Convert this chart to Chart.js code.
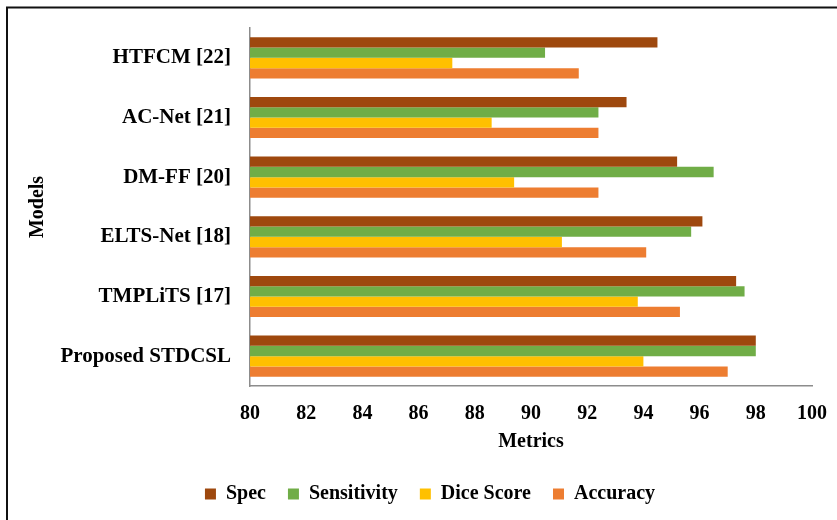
<!DOCTYPE html>
<html>
<head>
<meta charset="utf-8">
<script src="https://cdn.jsdelivr.net/npm/chart.js@4.4.0/dist/chart.umd.min.js"></script>
<style>
html,body{margin:0;padding:0;background:#fff;}
#wrap{position:relative;width:837px;height:520px;}
</style>
</head>
<body>
<div id="wrap"><canvas id="c" width="837" height="520"></canvas></div>
<script>
const categories = ["HTFCM [22]", "AC-Net [21]", "DM-FF [20]", "ELTS-Net [18]", "TMPLiTS [17]", "Proposed STDCSL"];
const seriesNames = ["Spec", "Sensitivity", "Dice Score", "Accuracy"];
const spec        = [94.5, 93.4, 95.2, 96.1, 97.3, 98.0];
const sensitivity = [90.5, 92.4, 96.5, 95.7, 97.6, 98.0];
const diceScore   = [87.2, 88.6, 89.4, 91.1, 93.8, 94.0];
const accuracy    = [91.7, 92.4, 92.4, 94.1, 95.3, 97.0];
const xTicks = [80, 82, 84, 86, 88, 90, 92, 94, 96, 98, 100];
const colors = ["#9E480E", "#70AD47", "#FFC000", "#ED7D31"];

const values = [spec, sensitivity, diceScore, accuracy];
const font = "'Liberation Serif', 'Times New Roman', serif";

const framePlugin = {
  id: 'frame',
  beforeDraw(chart) {
    const ctx = chart.ctx;
    ctx.save();
    ctx.fillStyle = '#fff';
    ctx.fillRect(0, 0, chart.width, chart.height);
    ctx.strokeStyle = '#111';
    ctx.lineWidth = 2;
    ctx.beginPath();
    ctx.moveTo(7, chart.height + 5);
    ctx.lineTo(7, 7.5);
    ctx.lineTo(chart.width + 5, 7.5);
    ctx.stroke();
    ctx.restore();
  }
};

new Chart(document.getElementById('c'), {
  type: 'bar',
  data: {
    labels: categories,
    datasets: seriesNames.map((n, i) => ({
      label: n,
      data: values[i],
      backgroundColor: colors[i],
      borderWidth: 0,
      categoryPercentage: 0.69,
      barPercentage: 1.0
    }))
  },
  options: {
    indexAxis: 'y',
    responsive: false,
    animation: false,
    devicePixelRatio: 1,
    layout: { padding: { top: 28, right: 25, left: 48, bottom: 6 } },
    plugins: {
      tooltip: { enabled: false },
      legend: {
        position: 'bottom',
        labels: {
          color: '#000',
          font: { family: font, size: 20, weight: 'bold' },
          boxWidth: 11,
          boxHeight: 11,
          padding: 22
        }
      }
    },
    scales: {
      x: {
        min: 80,
        max: 100,
        afterBuildTicks(scale) { scale.ticks = xTicks.map(v => ({ value: v })); },
        ticks: {
          color: '#000',
          font: { family: font, size: 20, weight: 'bold' },
          padding: 8
        },
        grid: { display: false },
        border: { display: true, color: '#8c8c8c', width: 1.5 },
        title: {
          display: true,
          text: 'Metrics',
          color: '#000',
          font: { family: font, size: 20, weight: 'bold' },
          padding: { top: -4, bottom: 8 }
        }
      },
      y: {
        afterFit(scale) { scale.width = 202; scale.paddingTop = 0; scale.paddingBottom = 0; },
        ticks: {
          color: '#000',
          font: { family: font, size: 21, weight: 'bold' },
          padding: 19
        },
        grid: { display: false, drawTicks: false },
        border: { display: true, color: '#8c8c8c', width: 1.5 },
        title: {
          display: true,
          text: 'Models',
          color: '#000',
          font: { family: font, size: 20, weight: 'bold' },
          padding: { top: -22, bottom: 0 }
        }
      }
    }
  },
  plugins: [framePlugin]
});
</script>
</body>
</html>
